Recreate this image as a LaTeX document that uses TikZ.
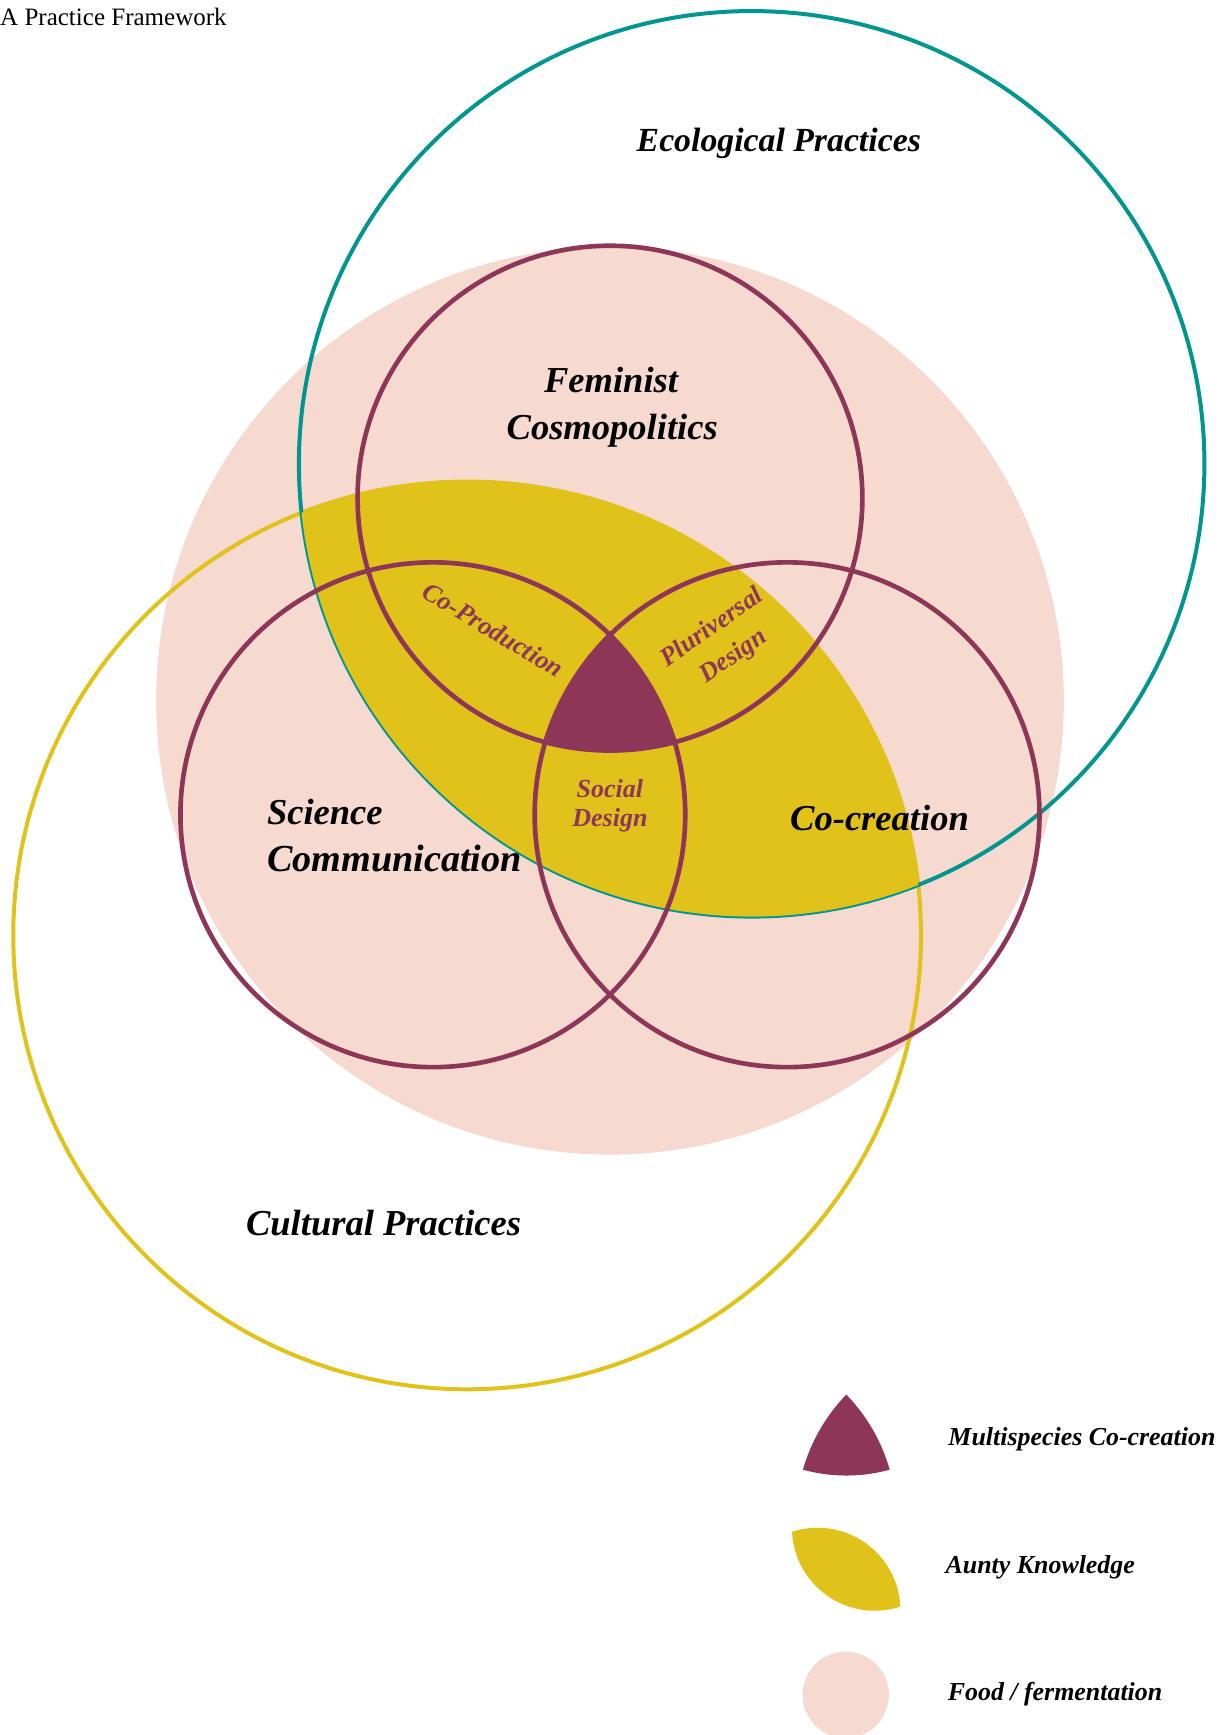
\documentclass[tikz,border=0pt]{standalone}
\usepackage{fontspec}
\setmainfont{Liberation Serif}
\definecolor{tealc}{RGB}{0,150,143}
\definecolor{yelc}{RGB}{224,194,26}
\definecolor{pinkc}{RGB}{246,218,208}
\definecolor{plumc}{RGB}{142,54,88}
\begin{document}
\begin{tikzpicture}[x=1pt,y=-1pt,
  bigring/.style={line width=3.6pt},
  ring/.style={draw=plumc, line width=4.2pt},
  lab/.style={font=\fontsize{33}{40}\selectfont\bfseries\itshape, inner sep=0pt, anchor=base},
  smalllab/.style={text=plumc, font=\fontsize{23.5}{27}\selectfont\bfseries\itshape, inner sep=0pt},
  leg/.style={font=\fontsize{23.4}{28}\selectfont\bfseries\itshape, inner sep=0pt, anchor=base west}]
\useasboundingbox (0,0) rectangle (1103,1567.3);

% food / fermentation disc
\fill[pinkc] (551,633) circle[radius=410];
% cultural and ecological circles
\draw[yelc, bigring] (422,845) circle[radius=410];
\draw[tealc, bigring] (679,419) circle[radius=409];
% aunty knowledge lens
\begin{scope}
  \clip (679,419) circle[radius=409];
  \fill[yelc] (422,845) circle[radius=410];
\end{scope}
% purple rings
\draw[ring] (551,450) circle[radius=228];
\draw[ring] (391,736) circle[radius=228];
\draw[ring] (711,736) circle[radius=228];
% multispecies centre
\begin{scope}
  \clip (551,450) circle[radius=228];
  \clip (391,736) circle[radius=228];
  \fill[plumc] (711,736) circle[radius=228];
\end{scope}

% title
\node[font=\fontsize{22.6}{26}\selectfont, inner sep=0pt, anchor=base west] (title) at (0,22.6) {A Practice Framework};

% main labels
\node[lab, font=\fontsize{30.5}{36}\selectfont\bfseries\itshape] (eco) at (703.5,137) {Ecological Practices};
\node[lab] (fem1) at (552,355) {Feminist};
\node[lab] (fem2) at (553,397) {Cosmopolitics};
\node[lab, anchor=base west] (sci1) at (241,745) {Science};
\node[lab, anchor=base west, font=\fontsize{34.5}{40}\selectfont\bfseries\itshape] (sci2) at (241,787) {Communication};
\node[lab] (cocr) at (794.5,750) {Co-creation};
\node[lab] (cult) at (346.5,1116) {Cultural Practices};

% small labels
\node[smalllab, rotate=-31] (coprod) at (445.6,569) {Co-Production};
\node[smalllab, rotate=35, anchor=base] (pluri1) at (647,572) {Pluriversal};
\node[smalllab, rotate=35, anchor=base] (pluri2) at (666,598) {Design};
\node[smalllab, anchor=base] (soc1) at (551,720) {Social};
\node[smalllab, anchor=base] (soc2) at (551,747) {Design};

% legend
\begin{scope}[shift={(764.5,1296.5)}, xscale=0.671, yscale=0.70, shift={(-551,-626)}]
  \clip (551,450) circle[radius=228];
  \clip (391,736) circle[radius=228];
  \fill[plumc] (711,736) circle[radius=228];
\end{scope}
\begin{scope}
  \clip (790.2,1380.2) circle[radius=74.8];
  \fill[yelc] (738.6,1454.9) circle[radius=74.8];
\end{scope}
\fill[pinkc] (764,1531) circle[radius=39];
\node[leg] (leg1) at (856.6,1305.5) {Multispecies Co-creation};
\node[leg] (leg2) at (854,1421) {Aunty Knowledge};
\node[leg] (leg3) at (856,1535.7) {Food / fermentation};
\end{tikzpicture}
\end{document}
